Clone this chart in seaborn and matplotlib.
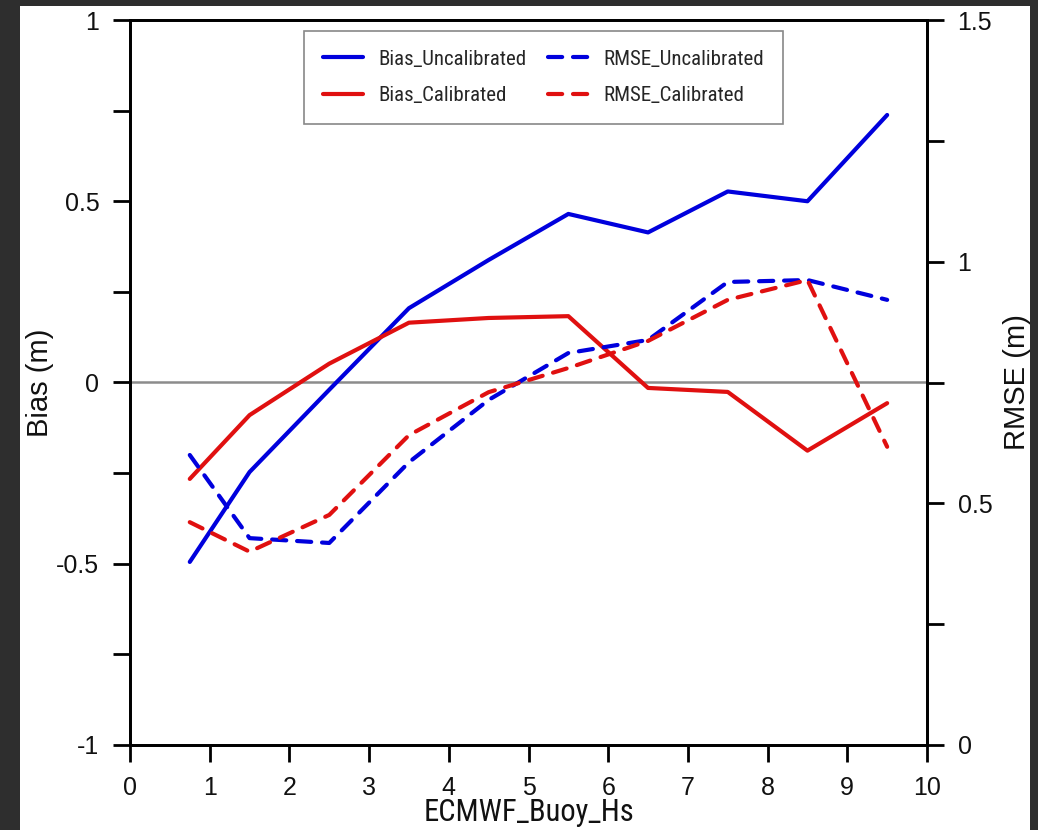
import matplotlib
matplotlib.use("Agg")
import matplotlib.pyplot as plt
from matplotlib.patches import Rectangle
from matplotlib.ticker import MultipleLocator
from matplotlib import font_manager
import pandas as pd
import seaborn as sns

# Buoy significant wave height bins (m)
hs_bins = [0.75, 1.5, 2.5, 3.5, 4.5, 5.5, 6.5, 7.5, 8.5, 9.5]

# Bias of ECMWF Hs against buoys (m)
bias_uncal = [-0.495, -0.247, -0.02, 0.205, 0.338, 0.465, 0.414, 0.527, 0.500, 0.738]
bias_cal = [-0.266, -0.090, 0.052, 0.165, 0.178, 0.183, -0.015, -0.026, -0.188, -0.057]

# RMSE of ECMWF Hs against buoys (m)
rmse_uncal = [0.600, 0.428, 0.418, 0.585, 0.714, 0.811, 0.838, 0.958, 0.962, 0.921]
rmse_cal = [0.461, 0.400, 0.476, 0.641, 0.730, 0.780, 0.836, 0.921, 0.962, 0.617]

x_ticks = list(range(0, 11))
bias_ticks = [-1, -0.5, 0, 0.5, 1]
bias_tick_labels = ["-1", "-0.5", "0", "0.5", "1"]
rmse_ticks = [0, 0.5, 1, 1.5]
rmse_tick_labels = ["0", "0.5", "1", "1.5"]

sns.set_theme(style="ticks")
plt.rcParams["font.family"] = ["Liberation Sans", "DejaVu Sans"]

# a condensed face for the legend and the x-axis title, when one is installed
narrow_family = ["Liberation Sans"]
for cand in ["Liberation Sans Narrow", "Roboto Condensed", "Open Sans Condensed"]:
    try:
        font_manager.findfont(cand, fallback_to_default=False)
        narrow_family = [cand, "Liberation Sans"]
        break
    except Exception:
        pass

BLUE = "#0000dd"
RED = "#e01010"

fig = plt.figure(figsize=(10.38, 8.30), dpi=100, facecolor="#2e2e2e")
# white page inside the dark frame
fig.patches.append(Rectangle((20 / 1038, 0), 1010 / 1038, 1 - 6 / 830,
                             transform=fig.transFigure, facecolor="white",
                             edgecolor="none", zorder=-10))

ax = fig.add_axes([130 / 1038, 1 - 745 / 830, 797 / 1038, 725 / 830])
ax2 = ax.twinx()
ax.set_facecolor("white")

df = pd.DataFrame({"hs": hs_bins, "bias_uncal": bias_uncal, "bias_cal": bias_cal,
                   "rmse_uncal": rmse_uncal, "rmse_cal": rmse_cal})

ax.axhline(0, color="#8c8c8c", lw=1.8, zorder=1)

sns.lineplot(data=df, x="hs", y="bias_uncal", ax=ax, color=BLUE, lw=3.0,
             label="Bias_Uncalibrated", legend=False, zorder=3)
sns.lineplot(data=df, x="hs", y="bias_cal", ax=ax, color=RED, lw=3.0,
             label="Bias_Calibrated", legend=False, zorder=3)
sns.lineplot(data=df, x="hs", y="rmse_uncal", ax=ax2, color=BLUE, lw=3.0,
             label="RMSE_Uncalibrated", legend=False, zorder=3)
sns.lineplot(data=df, x="hs", y="rmse_cal", ax=ax2, color=RED, lw=3.0,
             label="RMSE_Calibrated", legend=False, zorder=3)
for line in ax2.get_lines():
    line.set_dashes([3.4, 2.6])
    line.set_dash_capstyle("round")

ax.set_xlim(0, 10)
ax.set_ylim(-1, 1)
ax2.set_ylim(0, 1.5)

ax.set_xticks(x_ticks)
ax.set_xticklabels([str(t) for t in x_ticks])
ax.set_yticks(bias_ticks)
ax.set_yticklabels(bias_tick_labels)
ax.yaxis.set_minor_locator(MultipleLocator(0.25))
ax2.set_yticks(rmse_ticks)
ax2.set_yticklabels(rmse_tick_labels)
ax2.yaxis.set_minor_locator(MultipleLocator(0.25))

for a in (ax, ax2):
    for s in a.spines.values():
        s.set_color("black")
        s.set_linewidth(2.0)
        s.set_visible(True)
    a.tick_params(axis="both", which="both", direction="out", length=12,
                  width=2.0, color="black", labelsize=18, labelcolor="#111111",
                  pad=8)
ax.tick_params(axis="y", which="major", pad=10)
ax2.tick_params(axis="y", which="major", pad=10)
ax.tick_params(axis="x", which="major", pad=10)

ax.set_xlabel("ECMWF_Buoy_Hs", fontsize=22, color="#111111", labelpad=-1,
              family=narrow_family)
ax.set_ylabel("Bias (m)", fontsize=21, color="#111111", labelpad=2)
ax2.set_ylabel("RMSE (m)", fontsize=21, color="#111111", labelpad=8)

handles = [ax.get_lines()[1], ax.get_lines()[2]] + list(ax2.get_lines())
labels = [h.get_label() for h in handles]
leg = ax2.legend(handles, labels, ncol=2, loc="upper center",
                 bbox_to_anchor=(543.5 / 1038, 1 - 31 / 830),
                 bbox_transform=fig.transFigure, borderaxespad=0,
                 frameon=True, fancybox=False,
                 edgecolor="#888888", framealpha=1, handlelength=1.9,
                 handletextpad=0.75, columnspacing=1.05, borderpad=0.9,
                 labelspacing=0.85, prop={"family": narrow_family, "size": 15})
leg.get_frame().set_linewidth(1.2)

fig.savefig("out.png", dpi=100, facecolor=fig.get_facecolor())
